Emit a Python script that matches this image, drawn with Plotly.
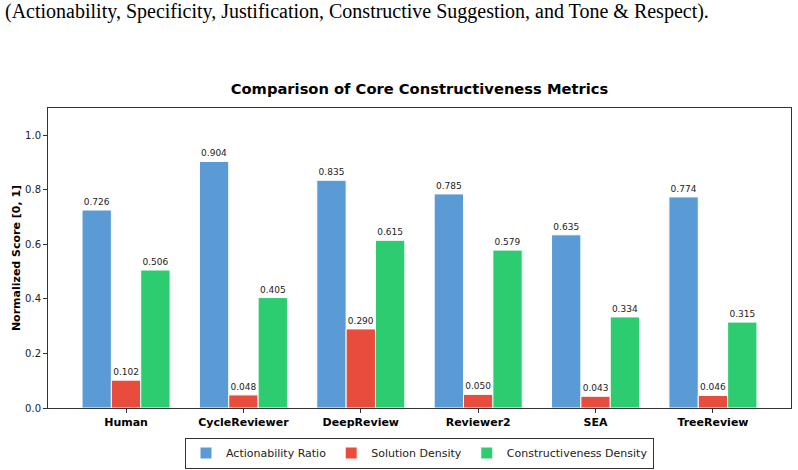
import plotly.graph_objects as go

categories = ["Human", "CycleReviewer", "DeepReview", "Reviewer2", "SEA", "TreeReview"]
actionability = [0.726, 0.904, 0.835, 0.785, 0.635, 0.774]
solution = [0.102, 0.048, 0.290, 0.050, 0.043, 0.046]
constructiveness = [0.506, 0.405, 0.615, 0.579, 0.334, 0.315]
series_names = ["Actionability Ratio", "Solution Density", "Constructiveness Density"]
colors = ["#5B9BD5", "#E74C3C", "#2ECC71"]
ytick_vals = [0.0, 0.2, 0.4, 0.6, 0.8, 1.0]

W, H = 798, 470
L, R, T, B = 48, 7, 108, 62
plot_h = H - T - B

fig = go.Figure()
for name, vals, col in zip(series_names, [actionability, solution, constructiveness], colors):
    fig.add_trace(go.Bar(
        x=categories, y=vals, name=name,
        marker=dict(color=col, line=dict(color="white", width=1)),
        text=[f"{v:.3f}" for v in vals],
        textposition="outside",
        textfont=dict(family="DejaVu Sans", size=9, color="#222"),
        cliponaxis=False,
    ))

fig.update_layout(
    width=W, height=H,
    margin=dict(l=L, r=R, t=T, b=B, autoexpand=False),
    paper_bgcolor="white", plot_bgcolor="white",
    barmode="group", bargap=0.25, bargroupgap=0,
    font=dict(family="DejaVu Sans", color="#222"),
    title=dict(
        text="<b>Comparison of Core Constructiveness Metrics</b>",
        x=0.5, xref="paper", xanchor="center",
        y=1 - 89 / H, yref="container", yanchor="middle",
        font=dict(family="DejaVu Sans", size=14.7, color="black"),
    ),
    legend=dict(
        orientation="h", x=0.5, xanchor="center",
        y=(408 - 453) / plot_h, yanchor="middle",
        bordercolor="#333", borderwidth=1,
        font=dict(family="DejaVu Sans", size=11, color="#222"),
        traceorder="normal",
    ),
)

fig.update_xaxes(
    range=[-0.665, 5.665], automargin=False,
    showline=True, linecolor="#333", linewidth=1, mirror=True,
    ticks="outside", ticklen=4, tickcolor="#333",
    tickfont=dict(family="DejaVu Sans", size=11, color="black"),
    tickvals=categories,
    ticktext=[f"<b>{c}</b>" for c in categories],
    showgrid=False,
)
fig.update_yaxes(
    range=[0, 1.1], automargin=False,
    showline=True, linecolor="#333", linewidth=1, mirror=True,
    ticks="outside", ticklen=4, tickcolor="#333",
    tickvals=ytick_vals, ticktext=[f"{v:.1f}" for v in ytick_vals],
    tickfont=dict(family="DejaVu Sans", size=10, color="#222"),
    showgrid=False, zeroline=False,
    title=dict(text="<b>Normalized Score [0, 1]</b>",
               font=dict(family="DejaVu Sans", size=11, color="black"),
               standoff=2),
)

fig.add_annotation(
    text="(Actionability, Specificity, Justification, Constructive Suggestion, and Tone &amp; Respect).",
    xref="paper", yref="paper",
    x=-L / (W - L - R) + 3 / (W - L - R), xanchor="left",
    y=(408 + 2) / plot_h, yanchor="top",
    showarrow=False,
    font=dict(family="Liberation Serif", size=20, color="black"),
)

fig.write_html("out.html")
